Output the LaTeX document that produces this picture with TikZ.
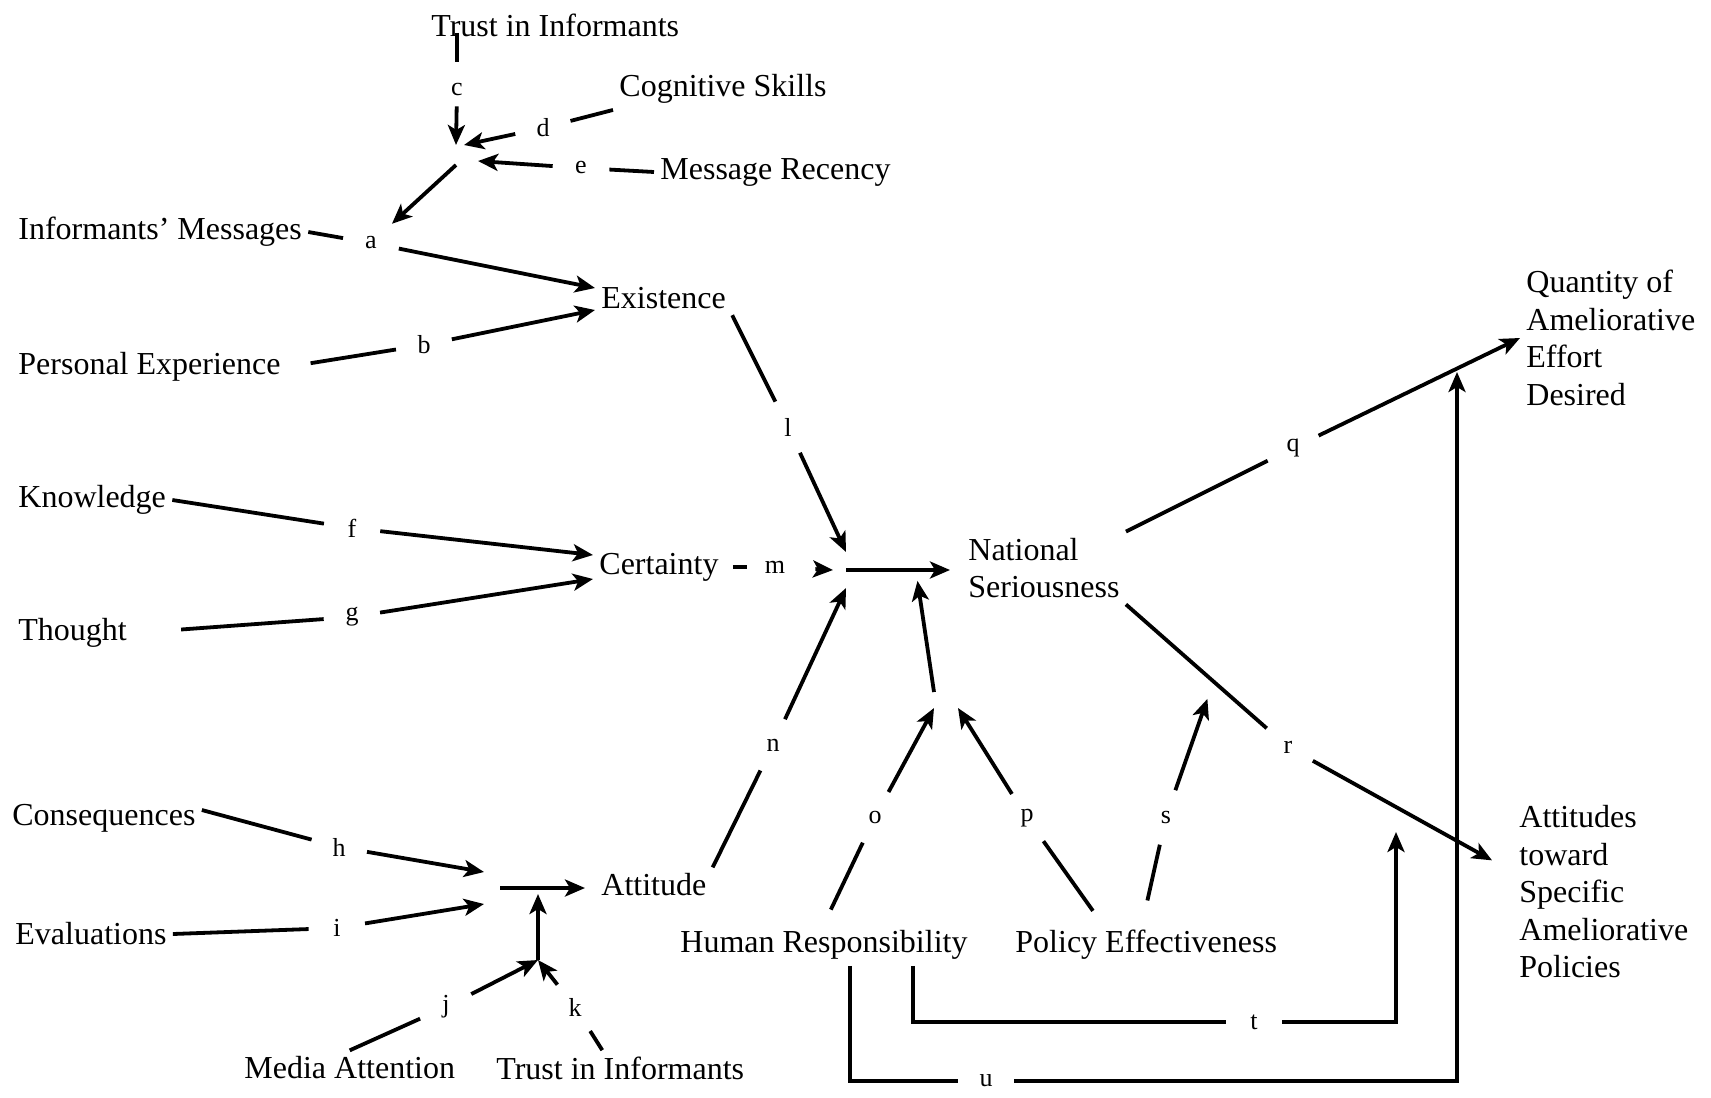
\documentclass[tikz,border=0pt]{standalone}
\usepackage{fontspec}
\setmainfont{Liberation Serif}
\usetikzlibrary{arrows.meta}

\begin{document}
\begin{tikzpicture}[x=0.5pt,y=-0.5pt,
    var/.style={anchor=west,font=\fontsize{16}{18.75}\selectfont,inner sep=3pt,align=left},
    coef/.style={circle,inner sep=0pt,minimum size=28pt,font=\fontsize{13}{13}\selectfont},
    jct/.style={inner sep=0pt,outer sep=0pt},
    link/.style={line width=1.9pt},
    arr/.style={line width=1.9pt,-{Stealth[length=10pt,width=8.5pt,inset=2.5pt]}}]
    \useasboundingbox (0,0) rectangle (1711,1097);

    \node[var] (trustT) at (425,25) {Trust in Informants};
    \node[var] (cog) at (613,89) {Cognitive Skills};
    \node[var] (recency) at (654,172) {Message Recency};
    \node[var] (infmsg) at (12,232) {Informants' Messages};
    \node[var] (exist) at (595,298) {Existence};
    \node[var] (persexp) at (12,367) {Personal Experience};
    \node[var] (know) at (12,500) {Knowledge};
    \node[var] (cert) at (593,567) {Certainty};
    \node[var] (thought) at (12,633) {Thought};
    \node[var] (ns) at (962,568) {National\\Seriousness};
    \node[var] (qty) at (1520,338) {Quantity of\\Ameliorative\\Effort\\Desired};
    \node[var] (conseq) at (6,818) {Consequences};
    \node[var] (evals) at (9,934) {Evaluations};
    \node[var] (attd) at (595,885) {Attitude};
    \node[var] (human) at (674,945) {Human Responsibility};
    \node[var] (policy) at (1009,945) {Policy Effectiveness};
    \node[var] (attspec) at (1513,892) {Attitudes\\toward\\Specific\\Ameliorative\\Policies};
    \node[var] (media) at (238,1068) {Media Attention};
    \node[var] (trustB) at (490,1068) {Trust in Informants};

    \node[coef] (la) at (371,243) {a};
    \node[coef] (lb) at (424,345) {b};
    \node[coef] (lc) at (457,90) {c};
    \node[coef] (ld) at (543,128) {d};
    \node[coef] (le) at (581,168) {e};
    \node[coef] (lf) at (352,528) {f};
    \node[coef] (lg) at (352,617) {g};
    \node[coef] (lh) at (339,847) {h};
    \node[coef] (li) at (337,928) {i};
    \node[coef] (lj) at (446,1007) {j};
    \node[coef] (lk) at (575,1007) {k};
    \node[coef] (ll) at (788,427) {l};
    \node[coef] (lm) at (775,567) {m};
    \node[coef] (ln) at (773,745) {n};
    \node[coef] (lo) at (875,817) {o};
    \node[coef] (lp) at (1027,818) {p};
    \node[coef] (lq) at (1293,448) {q};
    \node[coef] (lr) at (1288,747) {r};
    \node[coef] (ls) at (1166,817) {s};
    \node[coef] (lt) at (1254,1022) {t};
    \node[coef] (lu) at (986,1081) {u};

    \node[jct,minimum width=22pt,minimum height=10pt] (jtop) at (456,155) {};
    \node[jct,minimum width=13pt,minimum height=18pt] (jns) at (846,570) {};
    \node[jct,minimum width=8pt,minimum height=16pt] (jatt) at (492,888) {};
    \node[jct,minimum width=12pt,minimum height=8pt] (jop) at (946,700) {};
    \coordinate (jmid) at (916,571);
    \coordinate (jmod) at (538,888);
    \coordinate (jk) at (538,960);
    \coordinate (js) at (1214,680);
    \coordinate (jt) at (1396,832);
    \coordinate (ju) at (1457,372);

    \draw[link,shorten <=-5pt] (trustT.south -| lc) -- (lc);
    \draw[arr,shorten <=-6pt] (lc) -- (jtop.north);
    \draw[link] (cog.south west) -- (ld);
    \draw[arr] (ld) -- ([xshift=4pt]jtop.north);
    \draw[link] (recency.west) -- (le);
    \draw[arr] (le) -- ([yshift=-3pt]jtop.east);
    \draw[arr] (jtop.south) -- (la);
    \draw[link] (infmsg.east) -- (la);
    \draw[arr] (la) -- ([yshift=5pt]exist.west);
    \draw[link,shorten <=12pt] (persexp.east) -- (lb);
    \draw[arr] (lb) -- ([yshift=-6pt]exist.west);
    \draw[link] (know.east) -- (lf);
    \draw[arr] (lf) -- ([yshift=6pt]cert.west);
    \draw[link,shorten <=24pt] (thought.east) -- (lg);
    \draw[arr] (lg) -- ([yshift=-6pt]cert.west);
    \draw[link,shorten <=4pt] (cert.east) -- (lm);
    \draw[arr,shorten <=6pt] (lm) -- (jns.west);
    \draw[link] (exist.south east) -- (ll);
    \draw[arr] (ll) -- (jns.north);
    \draw[link] (attd.north east) -- (ln);
    \draw[arr] (ln) -- (jns.south);
    \draw[arr,shorten >=6pt] (jns.center) -- (jns -| ns.west);
    \draw[link] (ns.north east) -- (lq);
    \draw[arr] (lq) -- (qty.west);
    \draw[link] (ns.south east) -- (lr);
    \draw[arr,shorten >=12pt] (lr) -- ([yshift=10pt]attspec.west);
    \draw[link,shorten <=8pt] (human.north) -- (lo);
    \draw[arr] (lo) -- (jop.south west);
    \draw[link,shorten <=8pt] ([xshift=-22pt]policy.north) -- (lp);
    \draw[arr] (lp) -- (jop.south east);
    \draw[arr,shorten >=5pt] (jop.north west) -- (jmid);
    \draw[link,shorten <=12pt] ([xshift=-2pt]policy.north) -- (ls);
    \draw[arr,shorten >=10pt] (ls) -- (js);
    \draw[link] ([xshift=44.5pt]human.south) |- (lt);
    \draw[arr] (lt) -| (jt);
    \draw[link] ([xshift=13pt]human.south) |- (lu);
    \draw[arr] (lu) -| (ju);
    \draw[link] ([yshift=4pt]conseq.east) -- (lh);
    \draw[arr] (lh) -- (jatt.north west);
    \draw[link] (evals.east) -- (li);
    \draw[arr] (li) -- (jatt.south west);
    \draw[arr,shorten >=5pt] (jatt.east) -- (jatt -| attd.west);
    \draw[link] (media.north) -- (lj);
    \draw[arr] (lj) -- (jk);
    \draw[link] ([xshift=-9pt]trustB.north) -- (lk);
    \draw[arr] (lk) -- (jk);
    \draw[arr,shorten >=3pt] (jk) -- (jmod);
\end{tikzpicture}
\end{document}
